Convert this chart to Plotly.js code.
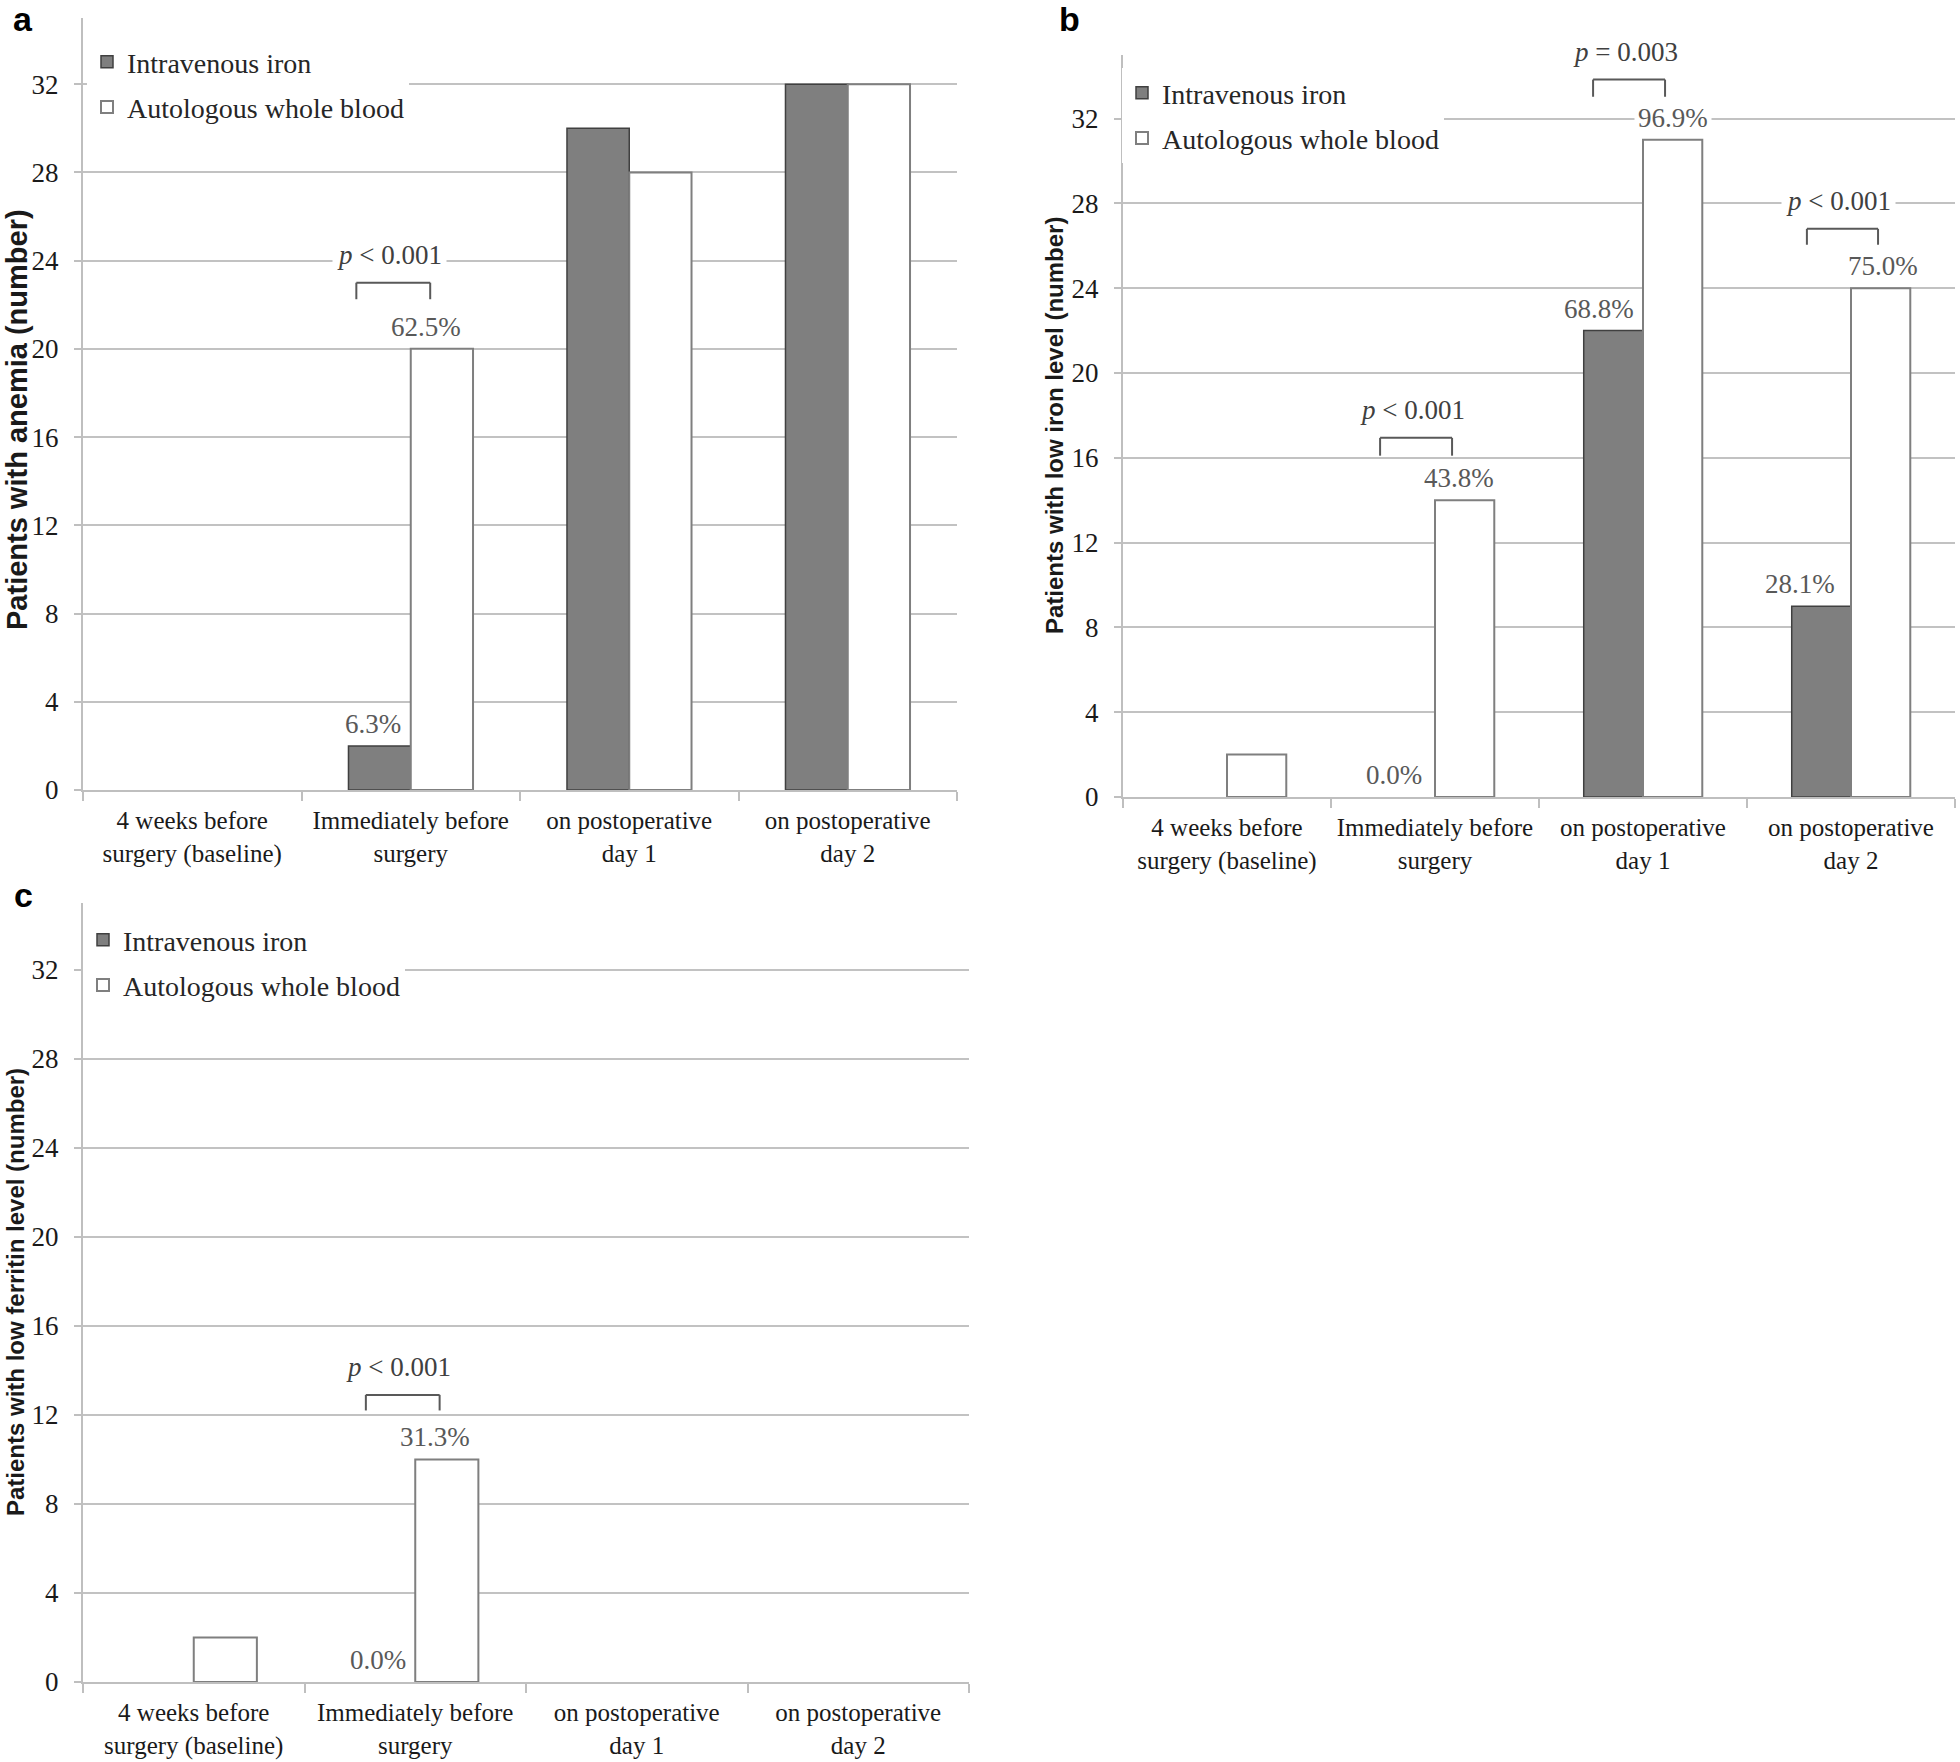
<!DOCTYPE html>
<html><head><meta charset="utf-8">
<script src="https://cdn.plot.ly/plotly-3.0.1.min.js"></script>
<style>html,body{margin:0;padding:0;background:#fff}</style>
</head><body>
<div id="chart" style="width:1960px;height:1762px"></div>
<script>
// ---------------- DATA ----------------
const categories = ["4 weeks before<br>surgery (baseline)", "Immediately before<br>surgery", "on postoperative<br>day 1", "on postoperative<br>day 2"];
const seriesNames = ["Intravenous iron", "Autologous whole blood"];
const anemiaIV = [0, 2, 30, 32];
const anemiaAWB = [0, 20, 28, 32];
const ironIV = [0, 0, 22, 9];
const ironAWB = [2, 14, 31, 24];
const ferritinIV = [0, 0, 0, 0];
const ferritinAWB = [2, 10, 0, 0];
const yTickVals = [0, 4, 8, 12, 16, 20, 24, 28, 32];
const panelLetters = ["a", "b", "c"];
const yTitles = ["Patients with anemia (number)", "Patients with low iron level (number)", "Patients with low ferritin level (number)"];
// percent labels: [category index, series index (0 = IV, 1 = AWB), text]
const anemiaPct = [[1, 0, "6.3%"], [1, 1, "62.5%"]];
const ironPct = [[1, 0, "0.0%"], [1, 1, "43.8%"], [2, 0, "68.8%"], [2, 1, "96.9%"], [3, 0, "28.1%"], [3, 1, "75.0%"]];
const ferritinPct = [[1, 0, "0.0%"], [1, 1, "31.3%"]];
// p-value labels: [category index, text]
const anemiaP = [[1, "<i>p</i> < 0.001"]];
const ironP = [[1, "<i>p</i> < 0.001"], [2, "<i>p</i> = 0.003"], [3, "<i>p</i> < 0.001"]];
const ferritinP = [[1, "<i>p</i> < 0.001"]];

// ---------------- LAYOUT CONFIG (positions / styles) ----------------
const W = 1960, H = 1762;
const px = v => v / W;
const py = v => 1 - v / H;
const boxes = [
  {x0: 83, x1: 957, yTop: 18, yBot: 790, letterX: 23, letterBase: 32, titleX: 17, titleY: 420, titleSize: 29, legLeft: 87, legTop: 37},
  {x0: 1123, x1: 1955, yTop: 55, yBot: 797, letterX: 1069, letterBase: 32, titleX: 1054, titleY: 426, titleSize: 24, legLeft: 1122, legTop: 68},
  {x0: 83, x1: 969, yTop: 903, yBot: 1682, letterX: 23, letterBase: 908, titleX: 15, titleY: 1292, titleSize: 24, legLeft: 83, legTop: 915}
];
const pctShift = [[-7, -16], [-11, -6, -14, 0, -21, 2], [-6, -12]];
// bracket: [left offset, right offset (category units), top y, leg bottom y]
const bracketGeom = [
  [[-0.249, 0.089, 23.0, 22.25]],
  [[-0.264, 0.082, 16.94, 16.1], [-0.24, 0.106, 33.84, 33.03], [-0.212, 0.13, 26.8, 26.05]],
  [[-0.223, 0.11, 12.9, 12.2]]
];
const BARGAP = 0.43;
const half = (1 - BARGAP) / 4;
const serif = "Liberation Serif, Times New Roman, serif";
const sans = "Liberation Sans, Arial, sans-serif";

const panels = [
  {iv: anemiaIV, awb: anemiaAWB, pct: anemiaPct, p: anemiaP},
  {iv: ironIV, awb: ironAWB, pct: ironPct, p: ironP},
  {iv: ferritinIV, awb: ferritinAWB, pct: ferritinPct, p: ferritinP}
];
// a count of zero draws no bar in the reference
const drawn = arr => arr.map(v => (v === 0 ? null : v));

const traces = [];
const layout = {
  width: W, height: H,
  margin: {l: 0, r: 0, t: 0, b: 0},
  paper_bgcolor: "#ffffff", plot_bgcolor: "#ffffff",
  bargap: BARGAP, bargroupgap: 0,
  hovermode: false,
  showlegend: true,
  annotations: [], shapes: []
};

panels.forEach((pd, k) => {
  const sfx = k === 0 ? "" : String(k + 1);
  const xa = "x" + sfx, ya = "y" + sfx;
  const legName = "legend" + sfx;
  const b = boxes[k];
  traces.push({
    type: "bar", x: categories, y: drawn(pd.iv), name: seriesNames[0], xaxis: xa, yaxis: ya,
    legend: legName, legendgroup: "g" + k + "a",
    marker: {color: "#7f7f7f", line: {color: "#404040", width: 1.5}}
  });
  traces.push({
    type: "bar", x: categories, y: drawn(pd.awb), name: seriesNames[1], xaxis: xa, yaxis: ya,
    legend: legName, legendgroup: "g" + k + "b",
    marker: {color: "#ffffff", line: {color: "#7f7f7f", width: 2}}
  });
  layout["xaxis" + sfx] = {
    domain: [px(b.x0), px(b.x1)], anchor: ya, type: "category",
    categoryorder: "array", categoryarray: categories,
    showgrid: false, zeroline: false,
    showline: true, linecolor: "#bfbfbf", linewidth: 2,
    ticks: "outside", tickson: "boundaries", ticklen: 9, tickwidth: 2, tickcolor: "#bfbfbf",
    tickangle: 0,
    tickfont: {family: serif, size: 25, color: "#1a1a1a"},
    ticklabelstandoff: 7,
    fixedrange: true
  };
  layout["yaxis" + sfx] = {
    domain: [py(b.yBot), py(b.yTop)], anchor: xa,
    range: [0, 35], tickvals: yTickVals,
    showgrid: true, gridcolor: "#c2c2c2", gridwidth: 2, zeroline: false,
    showline: true, linecolor: "#bfbfbf", linewidth: 2,
    ticks: "outside", ticklen: 7, tickwidth: 2, tickcolor: "#bfbfbf",
    tickfont: {family: serif, size: 27, color: "#1a1a1a"},
    ticklabelstandoff: 10,
    fixedrange: true
  };
  layout[legName] = {
    x: px(b.legLeft), y: py(b.legTop), xanchor: "left", yanchor: "top",
    xref: "paper", yref: "paper",
    bgcolor: "#ffffff", borderwidth: 0,
    font: {family: serif, size: 28, color: "#262626"},
    itemwidth: 30, traceorder: "grouped", tracegroupgap: 6
  };
  // panel letter
  layout.annotations.push({
    xref: "paper", yref: "paper", x: px(b.letterX), y: py(b.letterBase + 7),
    xanchor: "center", yanchor: "bottom", showarrow: false, borderpad: 0,
    text: "<b>" + panelLetters[k] + "</b>",
    font: {family: sans, size: 34, color: "#000000"}
  });
  // y title
  layout.annotations.push({
    xref: "paper", yref: "paper", x: px(b.titleX), y: py(b.titleY),
    xanchor: "center", yanchor: "middle", showarrow: false, textangle: -90, borderpad: 0,
    text: "<b>" + yTitles[k] + "</b>",
    font: {family: sans, size: b.titleSize, color: "#1a1a1a"}
  });
  // percent labels
  pd.pct.forEach((lab, j) => {
    const [ci, si, txt] = lab;
    const val = si === 0 ? pd.iv[ci] : pd.awb[ci];
    layout.annotations.push({
      xref: xa, yref: ya, x: ci + (si === 0 ? -half : half), y: val,
      xanchor: "center", yanchor: "bottom", showarrow: false,
      xshift: pctShift[k][j], yshift: 3,
      text: txt, bgcolor: "#ffffff", borderpad: 3,
      font: {family: serif, size: 27, color: "#595959"}
    });
  });
  // p-value brackets + labels
  pd.p.forEach((lab, j) => {
    const [ci, txt] = lab;
    const [l, r, top, bot] = bracketGeom[k][j];
    const line = {color: "#595959", width: 2};
    layout.shapes.push({type: "line", xref: xa, yref: ya, x0: ci + l, x1: ci + r, y0: top, y1: top, line});
    layout.shapes.push({type: "line", xref: xa, yref: ya, x0: ci + l, x1: ci + l, y0: top, y1: bot, line});
    layout.shapes.push({type: "line", xref: xa, yref: ya, x0: ci + r, x1: ci + r, y0: top, y1: bot, line});
    layout.annotations.push({
      xref: xa, yref: ya, x: ci + (l + r) / 2, y: top,
      xanchor: "center", yanchor: "bottom", showarrow: false,
      xshift: -4, yshift: 8,
      text: txt, bgcolor: "#ffffff", borderpad: 4,
      font: {family: serif, size: 27, color: "#404040"}
    });
  });
});

Plotly.newPlot("chart", traces, layout, {staticPlot: true, displayModeBar: false});
</script>
</body></html>
